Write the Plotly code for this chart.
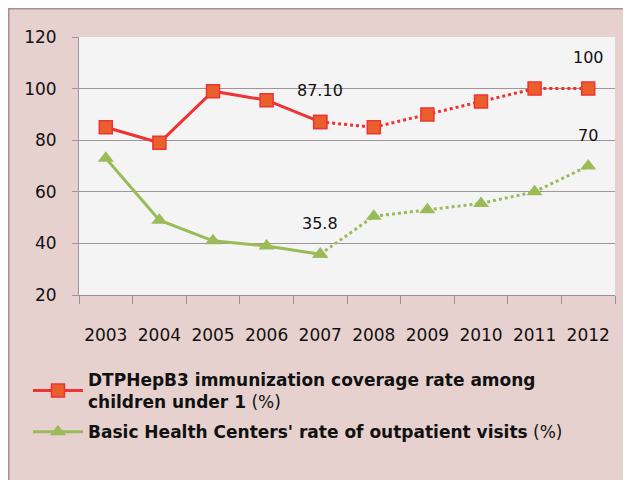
import plotly.graph_objects as go

years = ["2003", "2004", "2005", "2006", "2007", "2008", "2009", "2010", "2011", "2012"]
dtp = [85, 79, 99, 95.5, 87.1, 85, 90, 95, 100, 100]
bhc = [73, 49, 41, 39, 35.8, 50.5, 53, 55.5, 60, 70]
dtp_name = "<b>DTPHepB3 immunization coverage rate among<br>children under 1</b> (%)"
bhc_name = "<b>Basic Health Centers' rate of outpatient visits</b> (%)"
labels = [("2007", 87.1, "87.10"), ("2012", 100, "100"), ("2007", 35.8, "35.8"), ("2012", 70, "70")]

split = 4  # index where the projected (dotted) part starts

RED = "#EE3333"
RED_FILL = "#E9602D"
GREEN = "#9BBB59"

fig = go.Figure()
# solid parts
fig.add_trace(go.Scatter(x=years[:split + 1], y=dtp[:split + 1], mode="lines+markers", name=dtp_name,
                         legendgroup="dtp",
                         line=dict(color=RED, width=3),
                         marker=dict(symbol="square", size=13, color=RED_FILL, line=dict(color=RED, width=1.5))))
fig.add_trace(go.Scatter(x=years[:split + 1], y=bhc[:split + 1], mode="lines+markers", name=bhc_name,
                         legendgroup="bhc",
                         line=dict(color=GREEN, width=3),
                         marker=dict(symbol="triangle-up", size=14, color=GREEN, line=dict(width=0))))
# dotted parts
fig.add_trace(go.Scatter(x=years[split:], y=dtp[split:], mode="lines+markers", showlegend=False,
                         legendgroup="dtp",
                         line=dict(color=RED, width=3, dash="dot"),
                         marker=dict(symbol="square", size=13, color=RED_FILL, line=dict(color=RED, width=1.5))))
fig.add_trace(go.Scatter(x=years[split:], y=bhc[split:], mode="lines+markers", showlegend=False,
                         legendgroup="bhc",
                         line=dict(color=GREEN, width=3, dash="dot"),
                         marker=dict(symbol="triangle-up", size=14, color=GREEN, line=dict(width=0))))

for x, y, t in labels:
    fig.add_annotation(x=years.index(x), y=y, text=t, showarrow=False, yshift=31,
                       font=dict(family="DejaVu Sans", size=16, color="#111111"))

# geometry in pixels (figure sits inside the page's 8px body margin)
W, H = 623, 472
L, R, T, B = 71, 16, 29, 185
pw, ph = W - L - R, H - T - B


def px(xp):
    return (xp - L) / pw


def py(yp):
    return (H - B - yp) / ph


# frame border (top and left edges)
fig.add_shape(type="line", xref="paper", yref="paper", x0=px(0), x1=px(W + 20), y0=py(0.5), y1=py(0.5),
              line=dict(color="#A39294", width=2), layer="below")
fig.add_shape(type="line", xref="paper", yref="paper", x0=px(0.5), x1=px(0.5), y0=py(0), y1=py(H + 20),
              line=dict(color="#A39294", width=2), layer="below")
fig.add_shape(type="rect", xref="paper", yref="paper", x0=0, x1=1, y0=0, y1=1,
              fillcolor="#F4F4F4", line=dict(width=0), layer="below")

fig.update_layout(
    width=W, height=H,
    margin=dict(l=L, r=R, t=T, b=B, autoexpand=False),
    paper_bgcolor="#E6D1CF",
    plot_bgcolor="#F4F4F4",
    font=dict(family="DejaVu Sans", size=16, color="#111111"),
    showlegend=True,
    legend=dict(x=px(20), y=py(354), xanchor="left", yanchor="top", bgcolor="rgba(0,0,0,0)",
                font=dict(family="DejaVu Sans", size=17, color="#111111"),
                itemwidth=50, tracegroupgap=5),
    xaxis=dict(type="category", range=[-0.5, 9.5], showgrid=False, showline=True, linecolor="#9A9093",
               linewidth=1, ticks="outside", tickson="boundaries", ticklen=8, tickcolor="#9A9093",
               ticklabelstandoff=25, tickfont=dict(family="DejaVu Sans", size=17), fixedrange=True),
    yaxis=dict(range=[20, 120], dtick=20, showgrid=True, gridcolor="#A09598", gridwidth=1,
               showline=True, linecolor="#A09598", ticks="outside", ticklen=6, tickcolor="#A09598",
               ticklabelstandoff=12, tickfont=dict(family="DejaVu Sans", size=17), zeroline=False,
               fixedrange=True),
)

fig.write_html("out.html")
